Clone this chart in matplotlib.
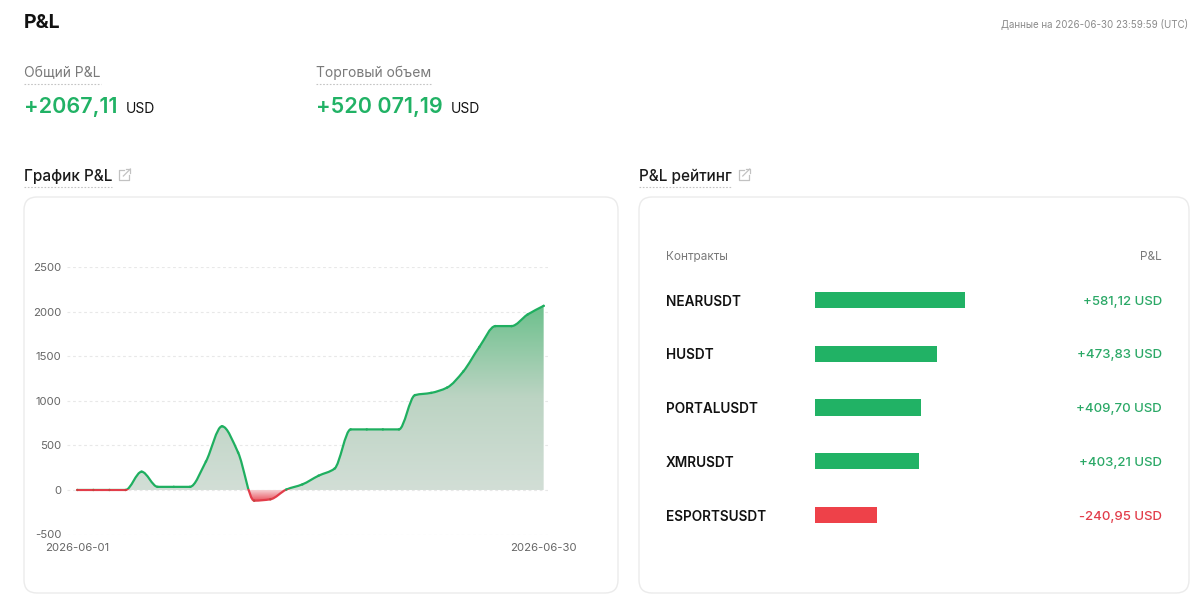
import numpy as np
import pandas as pd
import matplotlib
matplotlib.use("Agg")
import matplotlib.pyplot as plt
import matplotlib.transforms as mtransforms
from matplotlib.path import Path
from matplotlib.patches import PathPatch, FancyBboxPatch, Rectangle
from matplotlib.lines import Line2D
from matplotlib.colors import LinearSegmentedColormap

plt.rcParams['font.family'] = ['Inter', 'DejaVu Sans']
plt.rcParams['axes.unicode_minus'] = False

# ---- data ----
dates = pd.date_range("2026-06-01", "2026-06-30").strftime("%Y-%m-%d").tolist()
pnl = [0, 0, 0, 0, 205, 35, 35, 35, 320, 715,
       420, -120, -105, 5, 63, 160, 240, 680, 680, 680,
       680, 1065, 1090, 1150, 1330, 1605, 1840, 1840, 1970, 2067.11]
y_ticks = [-500, 0, 500, 1000, 1500, 2000, 2500]

contracts = ["NEARUSDT", "HUSDT", "PORTALUSDT", "XMRUSDT", "ESPORTSUSDT"]
contract_pnl = [581.12, 473.83, 409.70, 403.21, -240.95]

total_pnl = 2067.11
volume = 520071.19
data_time = "2026-06-30 23:59:59 (UTC)"

GREEN = "#21b265"
RED = "#ee4149"
LINE_GREEN = "#1faf60"
LINE_RED = "#e23d4a"

W, H = 1200, 616
fig = plt.figure(figsize=(W / 100, H / 100), dpi=100)
fig.patch.set_facecolor("white")
# pixel coordinates, origin top-left
T = mtransforms.Affine2D().scale(1, -1).translate(0, H)


def money(v, sep=True):
    s = f"{abs(v):,.2f}" if (sep and abs(v) >= 10000) else f"{abs(v):.2f}"
    s = s.replace(",", " ").replace(".", ",")
    return ("+" if v >= 0 else "-") + s


def underline(x0, x1, y):
    fig.add_artist(Line2D([x0, x1], [y, y], transform=T, color="#c4c4c4",
                          lw=0.8, ls=(0, (1.5, 1.5))))


def link_icon(x, y):
    c = "#c2c2c2"
    for xs, ys in [([x + 5, x, x, x + 10, x + 10], [y, y, y + 10, y + 10, y + 5]),
                   ([x + 4, x + 11], [y + 6, y - 1]),
                   ([x + 7, x + 11, x + 11], [y - 1, y - 1, y + 3])]:
        fig.add_artist(Line2D(xs, ys, transform=T, color=c, lw=0.9))


renderer = fig.canvas.get_renderer()

# ---- header ----
fig.text(24, 23, "P&L", transform=T, fontsize=14, fontweight="bold",
         color="#111111", va="center")
fig.text(1188, 24, "Данные на " + data_time, transform=T, fontsize=7,
         color="#8a8a8a", va="center", ha="right")

for x0, label, val, sep in [(24, "Общий P&L", total_pnl, False),
                            (316, "Торговый объем", volume, True)]:
    t = fig.text(x0, 73, label, transform=T, fontsize=10, color="#7a7a7a",
                 va="center")
    bb = t.get_window_extent(renderer)
    underline(x0, x0 + bb.width, 84)
    n = fig.text(x0, 113, money(val, sep), transform=T, fontsize=15.5,
                 fontweight="semibold", color=GREEN, va="baseline")
    nb = n.get_window_extent(renderer)
    fig.text(x0 + nb.width + 8, 113, "USD", transform=T, fontsize=10,
             color="#111111", va="baseline")

for x0, label in [(24, "График P&L"), (639, "P&L рейтинг")]:
    t = fig.text(x0, 176, label, transform=T, fontsize=11, fontweight="medium",
                 color="#1a1a1a", va="center")
    bb = t.get_window_extent(renderer)
    underline(x0, x0 + bb.width, 187)
    link_icon(x0 + bb.width + 7, 170)

# panels
for x0, x1 in [(24, 618), (639, 1189)]:
    fig.patches.append(FancyBboxPatch((x0, 197), x1 - x0, 396,
                                      boxstyle="round,pad=0,rounding_size=13",
                                      transform=T, facecolor="white",
                                      edgecolor="#ebebeb", lw=1, zorder=-5))

# ---- P&L line chart ----
ax = fig.add_axes([67 / W, 1 - 534.5 / H, (548 - 67) / W, (534.5 - 267.3) / H])
ax.set_facecolor("none")
x = np.arange(len(pnl))
y = np.array(pnl, dtype=float)

# monotone cubic tangents -> bezier segments (smooth line like the original)
d = np.diff(y)
m = np.zeros(len(y))
for i in range(1, len(y) - 1):
    if d[i - 1] * d[i] > 0:
        m[i] = 2 * d[i - 1] * d[i] / (d[i - 1] + d[i])
m[0], m[-1] = d[0], d[-1]
verts = [(x[0], y[0])]
codes = [Path.MOVETO]
for i in range(len(y) - 1):
    verts += [(x[i] + 1 / 3, y[i] + m[i] / 3),
              (x[i + 1] - 1 / 3, y[i + 1] - m[i + 1] / 3),
              (x[i + 1], y[i + 1])]
    codes += [Path.CURVE4] * 3
line_path = Path(verts, codes)
area_path = Path(verts + [(x[-1], 0), (x[0], 0), (x[0], 0)],
                 codes + [Path.LINETO, Path.LINETO, Path.CLOSEPOLY])

grad = np.linspace(0, 1, 256).reshape(-1, 1)
gcm = LinearSegmentedColormap.from_list("g", ["#d2ded6", "#bcd4c3", "#6cc08c"])
rcm = LinearSegmentedColormap.from_list("r", ["#e9525d", "#f6cfd2"])
im = ax.imshow(grad, extent=[x[0], x[-1], 0, y.max()], origin="lower",
               cmap=gcm, aspect="auto", zorder=1, interpolation="bicubic")
im.set_clip_path(area_path, ax.transData)
im2 = ax.imshow(grad, extent=[x[0], x[-1], y.min(), 0], origin="lower",
                cmap=rcm, aspect="auto", zorder=1, interpolation="bicubic")
im2.set_clip_path(area_path, ax.transData)

eps = 14
for col, rect in [(LINE_GREEN, Rectangle((-5, eps), 50, 10000)),
                  (LINE_RED, Rectangle((-5, -10000), 50, 10000 + eps))]:
    rect.set_transform(ax.transData)
    lp = PathPatch(line_path, fill=False, edgecolor=col, lw=1.6, zorder=3,
                   capstyle="round", joinstyle="round")
    ax.add_patch(lp)
    lp.set_clip_path(rect)
ax.scatter(x, y, s=3, c=[LINE_GREEN if v > 0 else "#c5443f" for v in y],
           zorder=4, linewidths=0)

ax.set_xlim(-0.64, 29.27)
ax.set_ylim(-500, 2500)
ax.set_yticks(y_ticks)
ax.set_xticks([0, len(dates) - 1], [dates[0], dates[-1]])
ax.tick_params(length=0, labelsize=8.2, labelcolor="#666666")
ax.tick_params(axis="y", pad=4)
ax.tick_params(axis="x", pad=6)
ax.yaxis.grid(True, color="#e8e8e8", lw=0.8, ls=(0, (2.5, 2.5)))
ax.set_axisbelow(True)
for s in ax.spines.values():
    s.set_visible(False)

# ---- P&L rating ----
fig.text(666, 257, "Контракты", transform=T, fontsize=8.5, color="#7a7a7a",
         va="center")
fig.text(1162, 257, "P&L", transform=T, fontsize=8.5, color="#7a7a7a",
         va="center", ha="right")

px_per_usd = 0.2577
axb = fig.add_axes([815 / W, 1 - 541.9 / H, 200 / W, 268.75 / H])
rows = np.arange(len(contracts))
axb.barh(rows, np.abs(contract_pnl), height=0.3,
         color=[GREEN if v > 0 else RED for v in contract_pnl])
axb.set_xlim(0, 200 / px_per_usd)
axb.set_ylim(len(contracts) - 0.5, -0.5)
axb.axis("off")
bt = mtransforms.offset_copy(mtransforms.blended_transform_factory(T, axb.transData),
                             fig=fig, y=-1.5, units="dots")
for r, name, v in zip(rows, contracts, contract_pnl):
    axb.text(666, r, name, transform=bt, fontsize=9.8, fontweight="semibold",
             color="#111111", va="center")
    axb.text(1162, r, money(v) + " USD", transform=bt, fontsize=9.5,
             fontweight="medium",
             color="#2aa866" if v > 0 else "#e23d4a", va="center", ha="right")

fig.savefig("out.png", dpi=100, facecolor="white")
